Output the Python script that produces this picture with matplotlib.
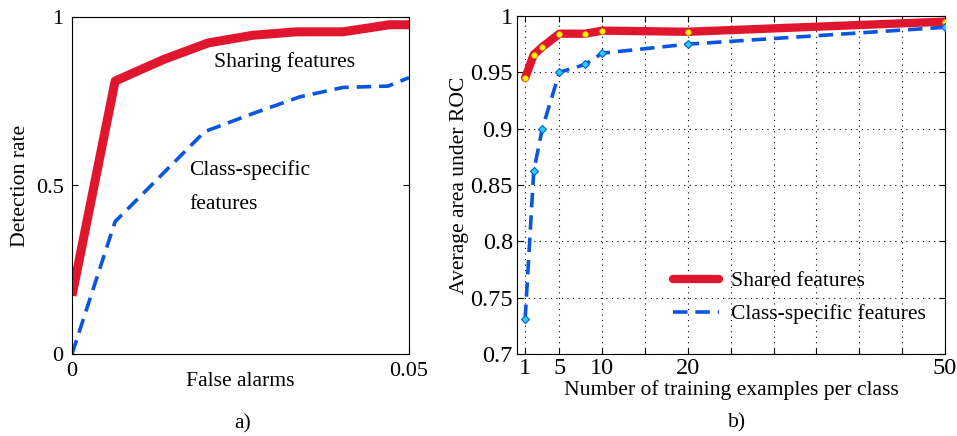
import matplotlib
matplotlib.use("Agg")
import matplotlib.pyplot as plt

plt.rcParams['font.family'] = ['Liberation Serif', 'DejaVu Serif']

# Panel a) ROC
fa_shared = [0.0, 0.0064, 0.0136, 0.0202, 0.0269, 0.0333, 0.0402, 0.0471, 0.05]
det_shared = [0.173, 0.81, 0.874, 0.923, 0.946, 0.956, 0.956, 0.977, 0.977]
fa_specific = [0.0, 0.0064, 0.0197, 0.0269, 0.0338, 0.0402, 0.0469, 0.05]
det_specific = [0.0, 0.393, 0.66, 0.714, 0.763, 0.791, 0.795, 0.82]

# Panel b) area under ROC vs training examples
n_train = [1, 2, 3, 5, 8, 10, 20, 50]
auc_shared = [0.945, 0.9657, 0.9725, 0.9843, 0.9843, 0.987, 0.986, 0.995]
auc_specific = [0.731, 0.862, 0.900, 0.950, 0.957, 0.967, 0.975, 0.990]

xticks_b = [1, 5, 10, 15, 20, 25, 30, 35, 40, 45, 50]
xticklabels_b = ['1', '5', '10', '', '20', '', '', '', '', '', '50']
yticks_b = [0.7, 0.75, 0.8, 0.85, 0.9, 0.95, 1.0]
yticklabels_b = ['0.7', '0.75', '0.8', '0.85', '0.9', '0.95', '1']

RED = '#E0162F'
BLUE = '#0A55E0'
FS = 15.6

W, H = 957, 436
fig = plt.figure(figsize=(W / 100, H / 100), dpi=100)

# ---- Panel a
axa = fig.add_axes([72 / W, 1 - 354 / H, (409 - 72) / W, (354 - 17) / H])
axa.plot(fa_shared, det_shared, color=RED, lw=6.5, solid_capstyle='butt')
axa.plot(fa_specific, det_specific, color=BLUE, lw=2.6, ls=(0, (4, 2.2)))
axa.set_xlim(0, 0.05)
axa.set_ylim(0, 1)
axa.set_xticks([0, 0.05])
axa.set_xticklabels(['0', '0.05'])
axa.set_yticks([0, 0.5, 1])
axa.set_yticklabels(['0', '0.5', '1'])
axa.tick_params(direction='in', length=4, labelsize=16, top=True, right=True, pad=6)
axa.set_xlabel('False alarms', fontsize=FS, labelpad=-7)
axa.set_ylabel('Detection rate', fontsize=FS, labelpad=4)
axa.text(0.0315, 0.865, 'Sharing features', fontsize=FS, ha='center', va='center')
axa.text(0.0174, 0.545, 'Class-specific', fontsize=FS, ha='left', va='center')
axa.text(0.0174, 0.445, 'features', fontsize=FS, ha='left', va='center')
fig.text(243 / W, 1 - 424 / H, 'a)', fontsize=FS, ha='center', va='center')

# ---- Panel b
axb = fig.add_axes([517 / W, 1 - 354 / H, (945 - 517) / W, (354 - 16) / H])
axb.plot(n_train, auc_shared, color=RED, lw=6, solid_joinstyle='round',
         solid_capstyle='round', label='Shared features', zorder=3)
axb.plot(n_train, auc_shared, ls='none', marker='o', ms=4, mfc='#FFF200',
         mec='#E0C000', mew=0.5, zorder=4)
axb.plot(n_train, auc_specific, color=BLUE, lw=2.6, ls=(0, (4, 2.2)),
         label='Class-specific features', zorder=3)
axb.plot(n_train, auc_specific, ls='none', marker='D', ms=4, mfc='#22D3F0',
         mec=BLUE, mew=0.8, zorder=4)
axb.set_xlim(0.05, 50)
axb.set_ylim(0.7, 1.0)
axb.set_xticks(xticks_b)
axb.set_xticklabels(xticklabels_b)
axb.set_yticks(yticks_b)
axb.set_yticklabels(yticklabels_b)
axb.grid(True, ls=(0, (1, 4)), color='black', lw=0.8)
axb.tick_params(direction='in', length=4, labelsize=17.5, top=True, right=True, pad=3)
axb.set_xlabel('Number of training examples per class', fontsize=FS, labelpad=1)
axb.set_ylabel('Average area under ROC', fontsize=FS, labelpad=1)
leg = axb.legend(loc='lower right', frameon=False, fontsize=FS,
                 bbox_to_anchor=(1.0, 0.03), handlelength=2.1,
                 handletextpad=0.55, labelspacing=0.6)
fig.text(737 / W, 1 - 423 / H, 'b)', fontsize=FS, ha='center', va='center')

fig.savefig('out.png', dpi=100)
